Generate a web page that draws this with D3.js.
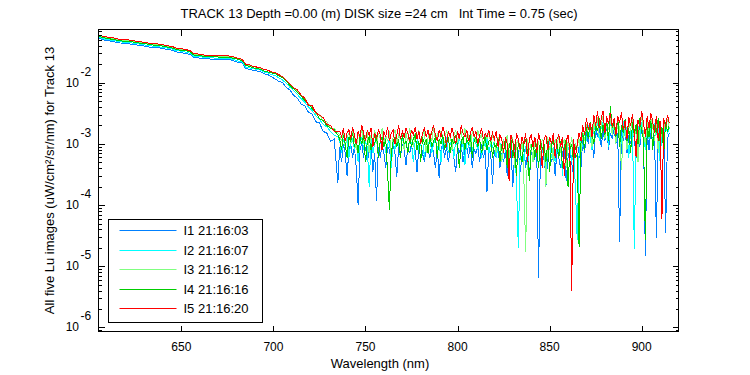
<!DOCTYPE html>
<html>
<head>
<meta charset="utf-8">
<script src="https://cdn.jsdelivr.net/npm/d3@7"></script>
<style>
  body { margin: 0; background: #fff; }
  text { font-family: "Liberation Sans", Arial, sans-serif; fill: #000; }
</style>
</head>
<body>
<svg id="mainsvg" width="750" height="375"></svg>
<script>
// wavelength grid (nm): coarse on the smooth part, 1 nm on the noisy part
const wavelengths = [
  605,607,609,611,613,615,617,619,621,623,
  625,627,629,631,633,635,637,639,641,643,
  645,647,649,651,653,655,657,659,661,663,
  665,667,669,671,673,675,677,679,681,683,
  685,687,689,691,693,695,697,699,701,703,
  705,707,709,711,713,715,717,719,721,723,
  725,727,729,731,733,735,
  736,737,738,739,740,741,742,743,744,745,
  746,747,748,749,750,751,752,753,754,755,
  756,757,758,759,760,761,762,763,764,765,
  766,767,768,769,770,771,772,773,774,775,
  776,777,778,779,780,781,782,783,784,785,
  786,787,788,789,790,791,792,793,794,795,
  796,797,798,799,800,801,802,803,804,805,
  806,807,808,809,810,811,812,813,814,815,
  816,817,818,819,820,821,822,823,824,825,
  826,827,828,829,830,831,832,833,834,835,
  836,837,838,839,840,841,842,843,844,845,
  846,847,848,849,850,851,852,853,854,855,
  856,857,858,859,860,861,862,863,864,865,
  866,867,868,869,870,871,872,873,874,875,
  876,877,878,879,880,881,882,883,884,885,
  886,887,888,889,890,891,892,893,894,895,
  896,897,898,899,900,901,902,903,904,905,
  906,907,908,909,910,911,912,913,914,915
];

// Lu (uW/cm^2/sr/nm), one array per image
const luI1 = [
  5.3e-2,5.1e-2,4.9e-2,4.8e-2,4.7e-2,4.5e-2,4.45e-2,4.35e-2,4.35e-2,4.25e-2,
  4.15e-2,4.1e-2,4.0e-2,3.9e-2,3.8e-2,3.8e-2,3.75e-2,3.65e-2,3.55e-2,3.45e-2,
  3.4e-2,3.2e-2,3.1e-2,3.05e-2,3.0e-2,2.85e-2,2.55e-2,2.55e-2,2.5e-2,2.45e-2,
  2.45e-2,2.4e-2,2.4e-2,2.4e-2,2.4e-2,2.35e-2,2.35e-2,2.25e-2,2.15e-2,2.1e-2,
  1.7e-2,1.65e-2,1.6e-2,1.55e-2,1.5e-2,1.4e-2,1.35e-2,1.25e-2,1.15e-2,1.05e-2,
  1.0e-2,8.4e-3,7.6e-3,6.2e-3,5.6e-3,4.5e-3,4.2e-3,3.3e-3,3.1e-3,2.3e-3,
  2.2e-3,1.6e-3,1.5e-3,1.1e-3,1.2e-3,2.3e-4,
  9.0e-4,5.0e-4,1.0e-3,7.0e-4,3.0e-4,8.0e-4,1.0e-3,6.0e-4,9.0e-4,4.0e-4,
  1.0e-4,8.0e-4,1.0e-3,6.0e-4,9.0e-4,5.0e-4,8.0e-4,1.0e-3,3.5e-4,7.0e-4,
  1.15e-4,9.0e-4,6.0e-4,1.0e-3,7.0e-4,4.0e-4,9.0e-4,8.0e-4,5.0e-4,1.0e-3,
  7.0e-4,2.9e-4,9.0e-4,6.0e-4,1.0e-3,8.0e-4,4.5e-4,9.0e-4,7.0e-4,1.0e-3,
  6.0e-4,8.0e-4,3.5e-4,9.0e-4,1.0e-3,7.0e-4,5.0e-4,9.0e-4,8.0e-4,6.0e-4,
  1.0e-3,7.0e-4,4.0e-4,9.0e-4,2.75e-4,8.0e-4,1.0e-3,6.0e-4,9.0e-4,5.0e-4,
  8.0e-4,1.0e-3,6.0e-4,3.5e-4,9.0e-4,7.0e-4,1.0e-3,5.0e-4,8.0e-4,9.0e-4,
  6.0e-4,1.0e-3,4.0e-4,8.0e-4,7.0e-4,9.0e-4,5.0e-4,1.0e-3,6.0e-4,8.0e-4,
  1.65e-4,9.0e-4,7.0e-4,2.2e-4,8.0e-4,6.0e-4,9.0e-4,4.0e-4,7.0e-4,5.0e-4,
  8.0e-4,3.0e-4,6.0e-4,9.0e-4,2.0e-4,7.0e-4,5.0e-4,8.0e-4,3.5e-4,6.0e-4,
  9.0e-4,4.0e-4,7.0e-4,2.5e-4,8.0e-4,5.0e-4,6.0e-4,9.0e-4,6.5e-6,7.0e-4,
  4.0e-4,8.0e-4,2.0e-4,6.0e-4,9.0e-4,5.0e-4,7.0e-4,3.0e-4,8.0e-4,6.0e-4,
  4.0e-4,7.0e-4,9.0e-4,2.5e-4,6.0e-4,8.0e-4,5.0e-4,3.0e-4,7.0e-4,6.0e-4,
  9.0e-4,4.0e-4,1.2e-3,7.0e-4,1.6e-3,1.0e-3,1.9e-3,1.2e-3,6.0e-4,1.8e-3,
  1.3e-3,2.1e-3,9.0e-4,1.6e-3,1.1e-3,2.0e-3,8.0e-4,1.5e-3,1.2e-3,1.8e-3,
  1.0e-3,1.5e-3,2.5e-5,1.7e-3,1.1e-3,1.9e-3,7.0e-4,1.4e-3,1.0e-3,1.8e-3,
  1.2e-3,6.0e-4,1.6e-3,9.0e-4,1.9e-3,1.3e-3,1.5e-5,1.5e-3,8.0e-4,1.7e-3,
  1.1e-3,1.4e-3,2.9e-5,1.6e-3,9.0e-4,1.3e-3,1.8e-3,3.5e-5,1.2e-3,1.5e-3
];
const luI2 = [
  5.5e-2,5.3e-2,5.1e-2,5.0e-2,4.9e-2,4.75e-2,4.65e-2,4.55e-2,4.55e-2,4.45e-2,
  4.35e-2,4.3e-2,4.2e-2,4.1e-2,4.0e-2,3.95e-2,3.9e-2,3.8e-2,3.75e-2,3.65e-2,
  3.55e-2,3.35e-2,3.3e-2,3.2e-2,3.15e-2,3.0e-2,2.65e-2,2.7e-2,2.65e-2,2.55e-2,
  2.55e-2,2.55e-2,2.5e-2,2.5e-2,2.5e-2,2.5e-2,2.45e-2,2.35e-2,2.25e-2,2.2e-2,
  1.8e-2,1.75e-2,1.7e-2,1.65e-2,1.6e-2,1.5e-2,1.45e-2,1.35e-2,1.3e-2,1.2e-2,
  1.1e-2,9.8e-3,8.4e-3,7.4e-3,6.4e-3,5.5e-3,4.8e-3,4.0e-3,3.5e-3,2.9e-3,
  2.5e-3,2.1e-3,1.9e-3,1.6e-3,1.4e-3,1.3e-3,
  1.1e-3,7.0e-4,1.2e-3,9.0e-4,1.3e-3,6.0e-4,1.0e-3,1.2e-3,8.0e-4,1.1e-3,
  5.0e-4,1.0e-3,1.3e-3,8.0e-4,1.1e-3,9.0e-4,2.0e-4,1.2e-3,7.0e-4,1.0e-3,
  1.2e-3,6.0e-4,1.1e-3,9.0e-4,1.3e-3,7.0e-4,1.0e-3,1.2e-3,4.0e-4,1.1e-3,
  8.0e-4,1.2e-3,1.0e-3,6.0e-4,1.3e-3,9.0e-4,1.1e-3,7.0e-4,1.2e-3,1.0e-3,
  5.0e-4,1.1e-3,1.3e-3,8.0e-4,1.0e-3,1.2e-3,6.0e-4,1.1e-3,9.0e-4,1.3e-3,
  7.0e-4,1.0e-3,1.2e-3,8.0e-4,1.1e-3,5.0e-4,1.2e-3,9.0e-4,1.3e-3,7.0e-4,
  1.0e-3,1.2e-3,6.0e-4,1.1e-3,9.0e-4,1.3e-3,8.0e-4,1.0e-3,4.5e-4,1.2e-3,
  9.0e-4,1.1e-3,7.0e-4,1.3e-3,1.0e-3,8.0e-4,1.2e-3,6.0e-4,1.1e-3,9.0e-4,
  1.2e-3,7.0e-4,1.0e-3,9.0e-4,1.1e-3,6.0e-4,9.0e-4,1.1e-3,5.0e-4,8.0e-4,
  1.0e-3,4.0e-4,9.0e-4,1.1e-3,6.0e-4,8.0e-4,2.5e-4,2.0e-5,7.0e-4,1.0e-3,
  5.0e-4,9.0e-4,1.1e-3,3.0e-4,8.0e-4,1.0e-3,6.0e-4,9.0e-4,4.0e-4,1.1e-3,
  7.0e-4,1.0e-3,3.5e-4,8.0e-4,1.1e-3,6.0e-4,9.0e-4,5.0e-4,1.0e-3,7.0e-4,
  9.0e-4,3.0e-4,1.1e-3,6.0e-4,8.0e-4,1.0e-3,5.0e-4,9.0e-4,2.0e-4,2.7e-5,
  7.0e-4,1.2e-3,9.0e-4,1.6e-3,1.1e-3,2.0e-3,1.3e-3,8.0e-4,2.2e-3,1.5e-3,
  2.5e-3,1.1e-3,1.8e-3,2.3e-3,1.4e-3,2.0e-3,9.0e-4,2.4e-3,1.6e-3,2.1e-3,
  1.2e-3,2.2e-3,1.5e-3,1.0e-3,2.4e-3,1.3e-3,1.9e-3,6.0e-4,1.7e-3,2.2e-3,
  1.9e-5,1.4e-3,2.0e-3,1.1e-3,2.3e-3,1.5e-3,8.0e-4,2.1e-3,1.2e-3,1.8e-3,
  1.0e-3,2.2e-3,1.4e-3,1.9e-3,5.0e-4,1.7e-3,1.2e-3,2.1e-3,1.5e-3,1.8e-3
];
const luI3 = [
  5.9e-2,5.7e-2,5.5e-2,5.4e-2,5.3e-2,5.1e-2,5.0e-2,4.9e-2,4.9e-2,4.8e-2,
  4.7e-2,4.6e-2,4.5e-2,4.4e-2,4.3e-2,4.25e-2,4.2e-2,4.1e-2,4.0e-2,3.9e-2,
  3.8e-2,3.6e-2,3.5e-2,3.45e-2,3.35e-2,3.2e-2,2.85e-2,2.9e-2,2.8e-2,2.75e-2,
  2.75e-2,2.7e-2,2.75e-2,2.7e-2,2.65e-2,2.7e-2,2.6e-2,2.55e-2,2.45e-2,2.35e-2,
  1.95e-2,1.9e-2,1.85e-2,1.75e-2,1.7e-2,1.65e-2,1.6e-2,1.5e-2,1.45e-2,1.35e-2,
  1.25e-2,1.1e-2,9.6e-3,8.2e-3,7.4e-3,6.1e-3,5.6e-3,4.5e-3,4.1e-3,3.1e-3,
  3.0e-3,2.4e-3,2.3e-3,1.8e-3,1.8e-3,1.5e-3,
  1.4e-3,1.1e-3,1.6e-3,9.0e-4,1.3e-3,1.5e-3,1.0e-3,1.7e-3,1.2e-3,8.0e-4,
  1.5e-3,1.2e-3,1.8e-3,1.0e-3,1.3e-3,1.6e-3,7.0e-4,1.4e-3,1.1e-3,1.7e-3,
  1.0e-3,1.5e-3,1.2e-3,1.8e-3,9.0e-4,1.4e-3,1.1e-3,1.6e-3,6.0e-4,1.3e-3,
  1.7e-3,1.0e-3,1.4e-3,1.2e-3,1.6e-3,8.0e-4,1.5e-3,1.1e-3,1.8e-3,1.3e-3,
  9.0e-4,1.5e-3,1.2e-3,1.7e-3,1.0e-3,1.4e-3,1.6e-3,7.0e-4,1.3e-3,1.5e-3,
  1.1e-3,1.8e-3,1.2e-3,1.4e-3,9.0e-4,1.6e-3,1.3e-3,1.0e-3,1.7e-3,1.2e-3,
  1.5e-3,8.0e-4,1.4e-3,1.7e-3,1.1e-3,1.3e-3,1.6e-3,1.0e-3,1.8e-3,1.2e-3,
  1.4e-3,9.0e-4,1.6e-3,1.3e-3,1.1e-3,1.7e-3,1.2e-3,1.5e-3,8.0e-4,1.4e-3,
  1.2e-3,1.6e-3,1.0e-3,1.4e-3,1.1e-3,7.0e-4,1.3e-3,1.0e-3,5.0e-4,1.2e-3,
  9.0e-4,1.4e-3,6.0e-4,1.1e-3,1.3e-3,4.0e-4,1.0e-3,1.2e-3,7.0e-4,1.1e-3,
  3.0e-4,1.7e-5,1.2e-3,8.0e-4,1.0e-3,5.0e-4,1.3e-3,9.0e-4,1.1e-3,6.0e-4,
  1.2e-3,1.0e-3,2.0e-4,1.3e-3,8.0e-4,1.1e-3,5.0e-4,1.2e-3,9.0e-4,1.4e-3,
  7.0e-4,1.0e-3,1.2e-3,4.0e-4,1.1e-3,8.0e-4,1.3e-3,6.0e-4,1.0e-3,9.0e-4,
  1.2e-3,7.0e-4,1.6e-3,1.1e-3,2.1e-3,1.4e-3,1.8e-3,9.0e-4,2.4e-3,1.6e-3,
  2.7e-3,1.3e-3,2.0e-3,2.9e-3,1.2e-3,2.3e-3,1.7e-3,2.6e-3,1.4e-3,2.2e-3,
  1.0e-3,2.5e-3,1.8e-3,3.8e-4,1.5e-3,2.1e-3,8.0e-4,2.4e-3,1.6e-3,2.7e-3,
  1.2e-3,2.0e-3,5.0e-4,1.7e-3,2.8e-3,1.4e-3,1.0e-3,2.3e-3,1.5e-3,2.6e-3,
  1.9e-3,1.1e-3,2.4e-3,7.0e-4,2.0e-3,1.3e-3,2.2e-3,1.6e-3,2.5e-3,1.8e-3
];
const luI4 = [
  5.7e-2,5.5e-2,5.35e-2,5.2e-2,5.1e-2,4.95e-2,4.85e-2,4.75e-2,4.75e-2,4.65e-2,
  4.55e-2,4.45e-2,4.35e-2,4.3e-2,4.2e-2,4.1e-2,4.1e-2,4.0e-2,3.9e-2,3.8e-2,
  3.7e-2,3.5e-2,3.4e-2,3.35e-2,3.3e-2,3.15e-2,2.8e-2,2.8e-2,2.75e-2,2.65e-2,
  2.65e-2,2.65e-2,2.65e-2,2.6e-2,2.6e-2,2.6e-2,2.55e-2,2.5e-2,2.4e-2,2.3e-2,
  1.9e-2,1.85e-2,1.75e-2,1.7e-2,1.65e-2,1.55e-2,1.5e-2,1.45e-2,1.4e-2,1.3e-2,
  1.2e-2,1.05e-2,9.0e-3,7.9e-3,6.9e-3,6.0e-3,5.2e-3,4.4e-3,3.8e-3,3.3e-3,
  2.6e-3,2.4e-3,2.0e-3,1.8e-3,1.7e-3,1.4e-3,
  1.2e-3,8.0e-4,1.4e-3,1.0e-3,6.0e-4,1.3e-3,1.1e-3,1.5e-3,9.0e-4,1.2e-3,
  7.0e-4,1.3e-3,1.0e-3,1.4e-3,5.0e-4,1.1e-3,1.3e-3,8.0e-4,1.2e-3,1.0e-3,
  1.4e-3,6.0e-4,1.1e-3,1.3e-3,9.0e-4,1.2e-3,3.5e-4,8.3e-5,7.0e-4,1.1e-3,
  1.3e-3,9.0e-4,1.2e-3,6.0e-4,1.4e-3,1.0e-3,1.1e-3,7.0e-4,1.3e-3,9.0e-4,
  1.2e-3,1.4e-3,8.0e-4,1.1e-3,5.0e-4,1.3e-3,1.0e-3,1.2e-3,7.0e-4,1.4e-3,
  9.0e-4,1.1e-3,1.3e-3,6.0e-4,1.2e-3,1.0e-3,1.4e-3,8.0e-4,1.1e-3,1.3e-3,
  7.0e-4,1.2e-3,1.0e-3,1.4e-3,9.0e-4,4.0e-4,1.1e-3,1.3e-3,8.0e-4,1.2e-3,
  1.0e-3,1.4e-3,6.0e-4,1.1e-3,1.3e-3,9.0e-4,1.2e-3,7.0e-4,1.0e-3,1.3e-3,
  8.0e-4,1.1e-3,1.2e-3,6.0e-4,1.0e-3,9.0e-4,1.2e-3,5.0e-4,1.0e-3,8.0e-4,
  1.1e-3,4.0e-4,9.0e-4,1.2e-3,6.0e-4,1.0e-3,3.0e-4,1.1e-3,8.0e-4,5.0e-4,
  1.0e-3,1.2e-3,7.0e-4,2.5e-4,9.0e-4,1.1e-3,6.0e-4,1.0e-3,4.0e-4,1.2e-3,
  8.0e-4,1.0e-3,5.0e-4,1.1e-3,3.5e-4,9.0e-4,1.2e-3,7.0e-4,1.0e-3,6.0e-4,
  1.1e-3,4.0e-4,9.0e-4,1.2e-3,2.0e-4,8.0e-4,1.0e-3,5.0e-4,9.0e-4,7.0e-4,
  2.1e-5,1.0e-3,1.5e-3,8.0e-4,1.9e-3,1.2e-3,2.3e-3,1.5e-3,1.0e-3,2.1e-3,
  1.6e-3,2.6e-3,1.2e-3,2.0e-3,1.4e-3,2.4e-3,1.1e-3,4.2e-3,1.8e-3,2.2e-3,
  1.3e-3,2.7e-3,9.0e-4,2.0e-3,1.5e-3,2.5e-3,1.1e-3,1.8e-3,7.0e-4,2.3e-3,
  1.4e-3,2.1e-3,1.0e-3,2.6e-3,1.6e-3,1.2e-3,2.7e-5,1.9e-3,1.3e-3,2.4e-3,
  8.0e-4,2.0e-3,1.5e-3,2.6e-3,1.1e-3,1.9e-3,7.0e-4,2.3e-3,1.6e-3,2.0e-3
];
const luI5 = [
  6.0e-2,5.8e-2,5.6e-2,5.5e-2,5.4e-2,5.2e-2,5.1e-2,5.0e-2,5.0e-2,4.9e-2,
  4.8e-2,4.7e-2,4.6e-2,4.5e-2,4.4e-2,4.35e-2,4.3e-2,4.2e-2,4.1e-2,4.0e-2,
  3.9e-2,3.7e-2,3.6e-2,3.55e-2,3.45e-2,3.3e-2,2.95e-2,2.95e-2,2.9e-2,2.8e-2,
  2.8e-2,2.8e-2,2.8e-2,2.75e-2,2.75e-2,2.75e-2,2.7e-2,2.6e-2,2.5e-2,2.4e-2,
  2.0e-2,1.95e-2,1.85e-2,1.8e-2,1.75e-2,1.65e-2,1.6e-2,1.5e-2,1.45e-2,1.35e-2,
  1.25e-2,1.1e-2,9.5e-3,8.3e-3,7.6e-3,6.3e-3,5.6e-3,4.3e-3,4.2e-3,3.2e-3,
  2.95e-3,2.7e-3,2.1e-3,2.0e-3,1.6e-3,1.6e-3,
  1.6e-3,1.3e-3,1.8e-3,1.1e-3,1.5e-3,1.7e-3,1.2e-3,1.9e-3,1.4e-3,1.0e-3,
  1.6e-3,1.3e-3,2.0e-3,1.5e-3,1.1e-3,1.7e-3,1.4e-3,1.8e-3,9.0e-4,1.5e-3,
  1.2e-3,1.7e-3,1.4e-3,8.0e-4,1.6e-3,1.3e-3,1.9e-3,1.1e-3,1.5e-3,1.7e-3,
  1.0e-3,1.4e-3,2.0e-3,1.2e-3,1.6e-3,1.3e-3,1.8e-3,1.5e-3,1.1e-3,1.7e-3,
  1.4e-3,1.9e-3,1.2e-3,1.6e-3,1.0e-3,1.5e-3,1.8e-3,1.3e-3,1.7e-3,1.2e-3,
  1.6e-3,2.0e-3,1.4e-3,1.1e-3,1.7e-3,1.3e-3,1.9e-3,1.5e-3,9.0e-4,1.6e-3,
  1.3e-3,1.8e-3,1.4e-3,1.0e-3,1.6e-3,1.2e-3,2.0e-3,1.5e-3,1.3e-3,1.7e-3,
  1.1e-3,1.5e-3,1.9e-3,1.3e-3,1.6e-3,1.0e-3,1.4e-3,1.8e-3,1.2e-3,1.5e-3,
  1.3e-3,1.7e-3,1.1e-3,1.5e-3,1.2e-3,1.6e-3,9.0e-4,1.4e-3,1.2e-3,7.0e-4,
  1.3e-3,1.0e-3,2.5e-4,1.4e-3,1.1e-3,6.0e-4,1.5e-3,1.2e-3,8.0e-4,1.3e-3,
  1.0e-3,1.5e-3,5.0e-4,1.2e-3,1.4e-3,9.0e-4,1.3e-3,7.0e-4,1.5e-3,1.1e-3,
  4.0e-4,1.2e-3,1.4e-3,8.0e-4,1.3e-3,1.0e-3,1.5e-3,6.0e-4,1.2e-3,1.4e-3,
  9.0e-4,1.3e-3,3.0e-4,1.1e-3,1.4e-3,8.0e-4,4.0e-6,1.2e-3,6.0e-4,1.0e-3,
  1.5e-3,1.1e-3,2.0e-3,1.4e-3,2.6e-3,1.7e-3,2.2e-3,1.3e-3,3.0e-3,2.0e-3,
  3.4e-3,1.8e-3,2.5e-3,3.5e-3,1.5e-3,2.8e-3,2.1e-3,3.2e-3,1.9e-3,2.6e-3,
  1.4e-3,2.9e-3,2.2e-3,3.3e-3,1.7e-3,2.4e-3,1.2e-3,2.7e-3,2.0e-3,3.1e-3,
  1.6e-3,6.0e-4,2.5e-3,1.9e-3,3.4e-3,2.2e-3,1.3e-3,2.8e-3,1.8e-3,3.2e-3,
  2.3e-3,1.5e-3,2.9e-3,1.1e-3,2.4e-3,6.0e-5,2.6e-3,1.9e-3,3.0e-3,2.2e-3
];

const seriesNames = ['I1 21:16:03', 'I2 21:16:07', 'I3 21:16:12', 'I4 21:16:16', 'I5 21:16:20'];
const seriesColors = ['#0080ff', '#00ffff', '#80ff80', '#00cc00', '#ff0000'];
const seriesValues = [luI1, luI2, luI3, luI4, luI5];

const xTicks = [650, 700, 750, 800, 850, 900];
const yDecades = [-6, -5, -4, -3, -2];
const xDomain = [605, 920];
const yDomain = [8.6e-7, 7.4e-2];

const titleText = 'TRACK 13 Depth =0.00 (m) DISK size =24 cm   Int Time = 0.75 (sec)';
const xAxisLabel = 'Wavelength (nm)';
const yAxisLabel = 'All five Lu images (uW/cm\u00b2/sr/nm) for Track 13';

const svg = d3.select('#mainsvg');
const margin = { top: 29.5, left: 98.5 };
const innerWidth = 580;
const innerHeight = 302;
const g = svg.append('g').attr('id', 'maingroup')
    .attr('transform', `translate(${margin.left}, ${margin.top})`);

const xScale = d3.scaleLinear().domain(xDomain).range([0, innerWidth]);
const yScale = d3.scaleLog().domain(yDomain).range([innerHeight, 0]);

g.append('clipPath').attr('id', 'clip')
    .append('rect').attr('width', innerWidth).attr('height', innerHeight);

// spectra, I1 drawn first, I5 on top
const line = d3.line()
    .x(d => xScale(d.wl))
    .y(d => yScale(d.lu));

const plotArea = g.append('g').attr('clip-path', 'url(#clip)');
seriesValues.forEach((vals, k) => {
    const data = wavelengths.map((wl, i) => ({ wl: wl, lu: vals[i] }));
    plotArea.append('path').datum(data)
        .attr('fill', 'none')
        .attr('stroke', seriesColors[k])
        .attr('stroke-width', 1)
        .attr('shape-rendering', 'crispEdges')
        .attr('d', line);
});

// axes: ticks point inward, like matlab; labels drawn separately below
const majorY = yDecades.map(e => Math.pow(10, e));
const minorY = yScale.ticks().filter(v => !majorY.some(m => Math.abs(v / m - 1) < 1e-6));

g.append('g').attr('transform', `translate(0, ${innerHeight})`)
    .call(d3.axisBottom(xScale).tickValues(xTicks).tickSize(-6).tickSizeOuter(0).tickFormat(''));
g.append('g').call(d3.axisTop(xScale).tickValues(xTicks).tickSize(-6).tickSizeOuter(0).tickFormat(''));
g.append('g').call(d3.axisLeft(yScale).tickValues(majorY).tickSize(-6).tickSizeOuter(0).tickFormat(''));
g.append('g').call(d3.axisLeft(yScale).tickValues(minorY).tickSize(-3).tickSizeOuter(0).tickFormat(''));
g.append('g').attr('transform', `translate(${innerWidth}, 0)`)
    .call(d3.axisRight(yScale).tickValues(majorY).tickSize(-6).tickSizeOuter(0).tickFormat(''));
g.append('g').attr('transform', `translate(${innerWidth}, 0)`)
    .call(d3.axisRight(yScale).tickValues(minorY).tickSize(-3).tickSizeOuter(0).tickFormat(''));

g.selectAll('.domain').remove();
g.selectAll('.tick line').attr('stroke', '#000').attr('shape-rendering', 'crispEdges');

// box
g.append('rect')
    .attr('width', innerWidth).attr('height', innerHeight)
    .attr('fill', 'none').attr('stroke', '#000')
    .attr('shape-rendering', 'crispEdges');

// tick labels in page coordinates
const labels = svg.append('g').attr('id', 'labels');
labels.selectAll('.xlab').data(xTicks).join('text')
    .attr('class', 'xlab')
    .attr('x', d => margin.left + xScale(d))
    .attr('y', 351)
    .attr('text-anchor', 'middle')
    .attr('font-size', '12px')
    .text(d => d);

labels.selectAll('.ybase').data(majorY).join('text')
    .attr('class', 'ybase')
    .attr('x', 79)
    .attr('y', d => margin.top + yScale(d) + 4)
    .attr('text-anchor', 'end')
    .attr('font-size', '12px')
    .text('10');
labels.selectAll('.yexp').data(majorY).join('text')
    .attr('class', 'yexp')
    .attr('x', 80.5)
    .attr('y', d => margin.top + yScale(d) - 7)
    .attr('font-size', '12px')
    .text(d => String(Math.round(Math.log10(d))));

// legend
const legendX = 108.5, legendY = 219.5;
svg.append('rect')
    .attr('x', legendX).attr('y', legendY)
    .attr('width', 154).attr('height', 103)
    .attr('fill', '#fff').attr('stroke', '#000')
    .attr('shape-rendering', 'crispEdges');
seriesNames.forEach((name, k) => {
    const yy = legendY + Math.round(11 + k * 19.6);
    svg.append('line')
        .attr('x1', legendX + 11).attr('x2', legendX + 68)
        .attr('y1', yy).attr('y2', yy)
        .attr('stroke', seriesColors[k])
        .attr('stroke-width', 1);
    svg.append('text')
        .attr('x', legendX + 75).attr('y', yy + 4.5)
        .attr('font-size', '13px')
        .text(name);
});

// title and axis labels
svg.append('text')
    .attr('x', 379).attr('y', 18)
    .attr('text-anchor', 'middle')
    .attr('font-size', '13px')
    .style('white-space', 'pre')
    .text(titleText);

svg.append('text')
    .attr('x', 380).attr('y', 368)
    .attr('text-anchor', 'middle')
    .attr('font-size', '13px')
    .text(xAxisLabel);

svg.append('text')
    .attr('transform', 'translate(54, 180.5) rotate(-90)')
    .attr('text-anchor', 'middle')
    .attr('font-size', '13px')
    .text(yAxisLabel);
</script>
</body>
</html>
